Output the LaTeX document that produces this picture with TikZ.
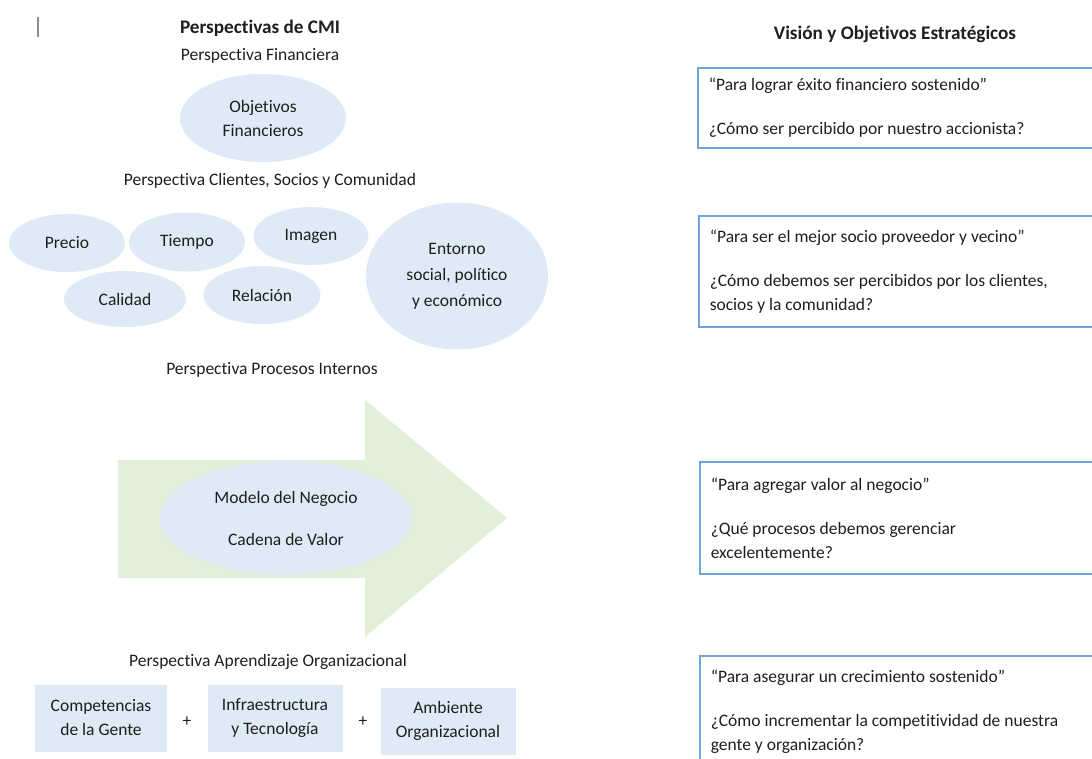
\documentclass[tikz,border=0pt]{standalone}
\usepackage{fontspec}
\setmainfont{Carlito}[Ligatures=CommonOff]
\usetikzlibrary{shapes.geometric}
\definecolor{cfill}{HTML}{DEEAF6}
\definecolor{cgreen}{HTML}{E2F0D9}
\definecolor{cline}{HTML}{6FA3DC}
\definecolor{ctext}{HTML}{1E1E1E}
\definecolor{ccursor}{HTML}{8C8C8C}
\tikzset{
  every picture/.style={x=1pt, y=-1pt, font=\fontsize{17.5}{24}\selectfont, text=ctext},
  oval/.style={ellipse, fill=cfill, inner sep=0pt, align=center},
  learnbox/.style={fill=cfill, inner sep=0pt, align=center, minimum height=67pt},
  visionbox/.style={draw=cline, line width=1.5pt, anchor=north west, align=flush left, text width=400pt, inner xsep=11pt, inner ysep=0pt},
  heading/.style={font=\fontsize{19.2}{24}\selectfont\bfseries},
  persp/.style={align=center, inner sep=0pt},
}

\begin{document}
\begin{tikzpicture}
  \useasboundingbox (0,0) rectangle (1092,758);
  \clip (0,0) rectangle (1092,758);
  \draw[ccursor, line width=1.2pt] (38,17) -- (38,37);
  % left column
  \node[heading] (cmi) at (260,28) {Perspectivas de CMI};
  \node[persp] (pfin) at (260,56) {Perspectiva Financiera};
  \node[oval, minimum width=166pt, minimum height=88pt] (fin) at (263,118) {Objetivos\\Financieros};
  \node[persp] (pcli) at (270,181) {Perspectiva Clientes, Socios y Comunidad};
  \node[oval, minimum width=116pt, minimum height=58pt] (precio) at (67,243) {Precio};
  \node[oval, minimum width=116pt, minimum height=59pt] (tiempo) at (187,242) {Tiempo};
  \node[oval, minimum width=115pt, minimum height=58pt] (imagen) at (311,236) {Imagen};
  \node[oval, minimum width=122pt, minimum height=56pt] (calidad) at (125,299) {Calidad};
  \node[oval, minimum width=117pt, minimum height=58pt] (relacion) at (262,295) {Relación};
  \node[oval, minimum width=182pt, minimum height=147pt] (entorno) at (457,276) {Entorno\\[2pt]social, político\\[2pt]y económico};
  \node[persp] (pint) at (272,370) {Perspectiva Procesos Internos};
  \fill[cgreen] (118,460) -- (365,460) -- (365,400) -- (507,518) -- (365,637) -- (365,578) -- (118,578) -- cycle;
  \node[oval, minimum width=252pt, minimum height=114pt] (modelo) at (286,518) {Modelo del Negocio\\[18pt]Cadena de Valor};
  \node[persp] (papr) at (268,662) {Perspectiva Aprendizaje Organizacional};
  \node[learnbox, minimum width=132pt] (gente) at (101,718) {Competencias\\de la Gente};
  \node (plus1) at (187,722) {+};
  \node[learnbox, minimum width=135pt] (infra) at (275,718) {Infraestructura\\y Tecnología};
  \node (plus2) at (363,722) {+};
  \node[learnbox, minimum width=135pt] (ambiente) at (448,721) {Ambiente\\Organizacional};
  % right column
  \node[heading] (vis) at (895,34) {Visión y Objetivos Estratégicos};
  \node[visionbox, minimum height=80pt] (v1) at (697,67) {“Para lograr éxito financiero sostenido”\\[20pt]¿Cómo ser percibido por nuestro accionista?};
  \node[visionbox, minimum height=111pt] (v2) at (698,215) {“Para ser el mejor socio proveedor y vecino”\\[20pt]¿Cómo debemos ser percibidos por los clientes,\\socios y la comunidad?};
  \node[visionbox, minimum height=112pt] (v3) at (699,461) {“Para agregar valor al negocio”\\[20pt]¿Qué procesos debemos gerenciar\\excelentemente?};
  \node[visionbox, minimum height=112pt] (v4) at (699,655) {“Para asegurar un crecimiento sostenido”\\[20pt]¿Cómo incrementar la competitividad de nuestra\\gente y organización?};
\end{tikzpicture}
\end{document}
